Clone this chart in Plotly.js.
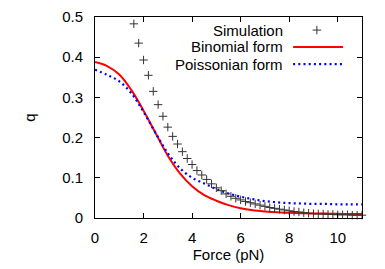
<!DOCTYPE html>
<html>
<head>
<meta charset="utf-8">
<script src="https://cdn.plot.ly/plotly-3.0.1.min.js"></script>
<style>html,body{margin:0;padding:0;background:#fff;}#chart{width:385px;height:269px;}</style>
</head>
<body>
<div id="chart"></div>
<script>
// Simulation data (crosses)
const simForce = [1.6,1.8,2.0,2.2,2.4,2.6,2.8,3.0,3.2,3.4,3.6,3.8,4.0,4.2,4.4,4.6,4.8,5.0,
  5.2,5.4,5.6,5.8,6.0,6.2,6.4,6.6,6.8,7.0,7.2,7.4,7.6,7.8,8.0,8.2,8.4,8.6,8.8,9.0,
  9.2,9.4,9.6,9.8,10.0,10.2,10.4,10.6,10.8,11.0];
const simQ = [0.483,0.435,0.393,0.355,0.315,0.282,0.253,0.226,0.203,0.184,0.165,0.148,0.133,0.118,0.107,0.096,0.085,0.075,
  0.068,0.060,0.054,0.049,0.045,0.041,0.038,0.035,0.032,0.029,0.026,0.024,0.022,0.020,0.018,0.016,0.015,0.013,0.012,0.011,
  0.010,0.010,0.009,0.009,0.008,0.008,0.008,0.007,0.007,0.007];

// Binomial form (red solid)
const binForce = [0,0.5,1.0,1.5,2.0,2.5,3.0,3.5,4.0,4.5,5.0,5.5,6.0,6.5,7.0,7.5,8.0,8.5,9.0,9.5,10.0,10.5,11.0];
const binQ = [0.388,0.378,0.357,0.318,0.267,0.211,0.155,0.111,0.079,0.057,0.043,0.032,0.024,0.019,0.016,0.014,0.013,0.012,0.011,0.011,0.0105,0.010,0.010];

// Poissonian form (blue dotted)
const poiForce = [0,0.5,1.0,1.5,2.0,2.5,3.0,3.5,4.0,4.5,5.0,5.5,6.0,6.5,7.0,7.5,8.0,8.5,9.0,9.5,10.0,10.5,11.0];
const poiQ = [0.369,0.356,0.340,0.310,0.264,0.211,0.161,0.124,0.100,0.086,0.072,0.061,0.053,0.047,0.042,0.039,0.037,0.036,0.035,0.035,0.034,0.034,0.034];

const legendLabels = ["Simulation","Binomial form","Poissonian form"];
const xTicks = [0,2,4,6,8,10];
const yTicks = [0,0.1,0.2,0.3,0.4,0.5];

const font = {family:"Liberation Sans, Arial, sans-serif", size:15, color:"#000"};

const traces = [
  {x:binForce, y:binQ, mode:"lines", line:{color:"#ff0000", width:2, shape:"spline"}, showlegend:false},
  {x:poiForce, y:poiQ, mode:"lines", line:{color:"#0000ff", width:2.2, dash:"2px,3.2px", shape:"spline"}, showlegend:false},
  {x:simForce, y:simQ, mode:"markers", cliponaxis:false,
   marker:{symbol:"cross-thin-open", size:6, color:"#333", line:{color:"#333", width:1}}, showlegend:false}
];

// legend geometry (paper coords)
const rowY = [0.935, 0.851, 0.766];
const txtX = 0.706, l0 = 0.742, l1 = 0.929, cx = 0.831;
const annotations = legendLabels.map((t,i)=>({
  xref:"paper", yref:"paper", x:txtX, y:rowY[i], xanchor:"right", yanchor:"middle",
  text:t, showarrow:false, font:font, borderpad:0
}));
const shapes = [
  {type:"line", xref:"paper", yref:"paper", x0:cx-0.016, x1:cx+0.016, y0:rowY[0], y1:rowY[0], line:{color:"#333", width:1}},
  {type:"line", xref:"paper", yref:"paper", x0:cx, x1:cx, y0:rowY[0]-0.021, y1:rowY[0]+0.021, line:{color:"#333", width:1}},
  {type:"line", xref:"paper", yref:"paper", x0:l0, x1:l1, y0:rowY[1], y1:rowY[1], line:{color:"#ff0000", width:2}},
  {type:"line", xref:"paper", yref:"paper", x0:l0, x1:l1, y0:rowY[2], y1:rowY[2], line:{color:"#0000ff", width:2.2, dash:"2px,3.2px"}}
];

const axisCommon = {
  showgrid:false, zeroline:false, showline:true, linecolor:"#000", linewidth:1,
  mirror:"ticks", ticks:"inside", ticklen:5, tickcolor:"#000", tickwidth:1,
  tickfont:font, automargin:false
};

const layout = {
  width:385, height:269,
  margin:{l:95, r:23, t:17, b:51},
  paper_bgcolor:"#fff", plot_bgcolor:"#fff",
  font:font,
  showlegend:false,
  xaxis:Object.assign({}, axisCommon, {range:[0,11], tickvals:xTicks, ticktext:xTicks.map(String),
    ticklabelstandoff:6, title:{text:"Force (pN)", font:font, standoff:4}}),
  yaxis:Object.assign({}, axisCommon, {range:[0,0.5], tickvals:yTicks, ticktext:yTicks.map(v=>String(v)),
    ticklabelstandoff:8, title:{text:"q", font:font, standoff:22}}),
  annotations:annotations,
  shapes:shapes
};

Plotly.newPlot("chart", traces, layout, {displayModeBar:false, staticPlot:true});
</script>
</body>
</html>
